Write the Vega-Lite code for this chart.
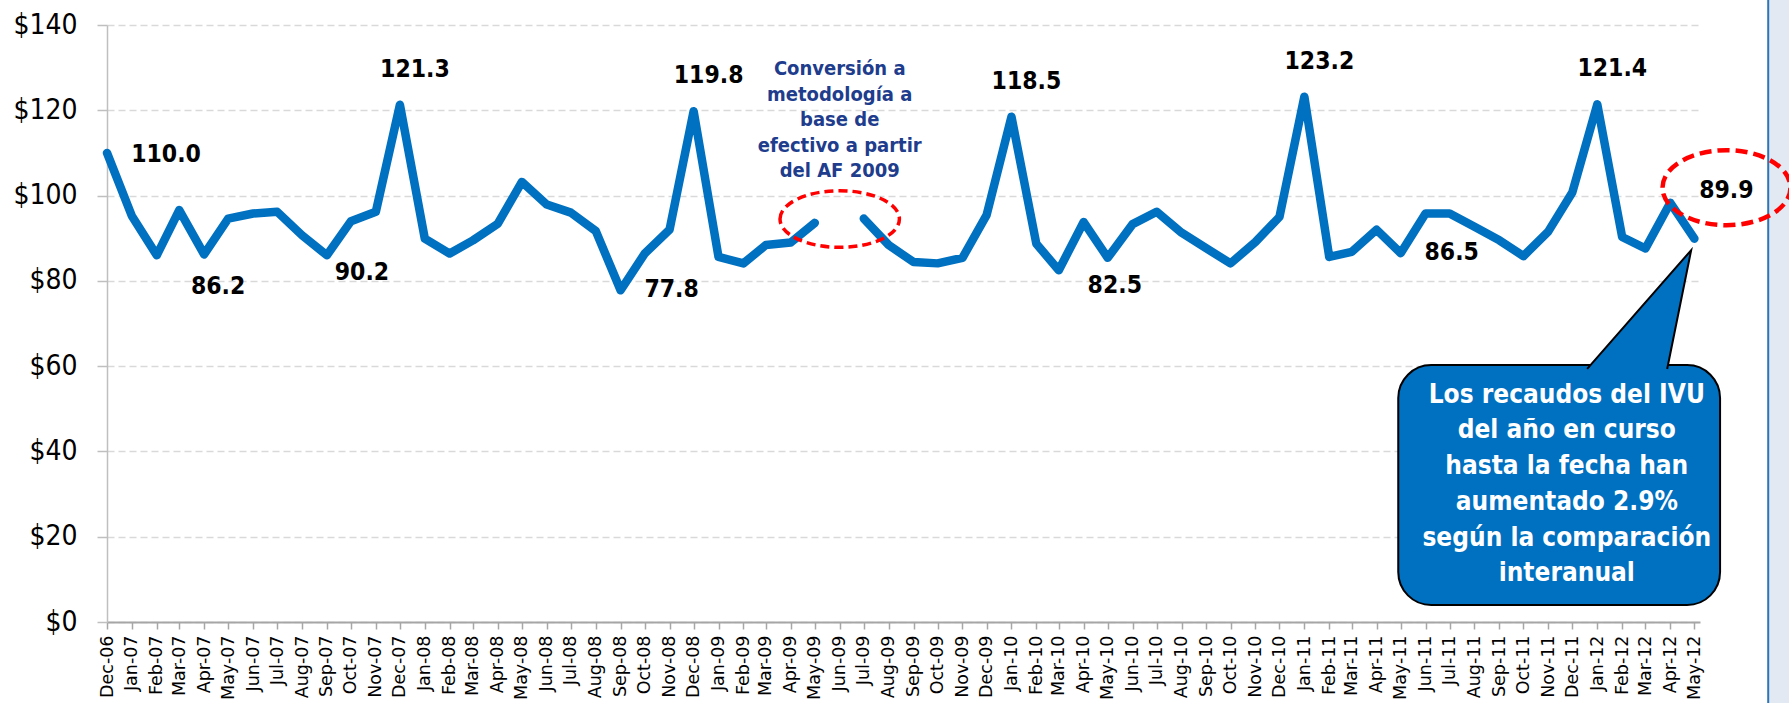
{
  "$schema": "https://vega.github.io/schema/vega-lite/v6.json",
  "autosize": "none",
  "padding": {"left": 107, "top": 25, "right": 89, "bottom": 81},
  "width": 1593,
  "height": 597,
  "background": "#ffffff",
  "config": {"view": {"stroke": null}},
  "datasets": {
    "ivu": [
      {"month": "2006-12-01", "value": 110.0, "label": "110.0"},
      {"month": "2007-01-01", "value": 95.2},
      {"month": "2007-02-01", "value": 86.0},
      {"month": "2007-03-01", "value": 96.6},
      {"month": "2007-04-01", "value": 86.2, "label": "86.2"},
      {"month": "2007-05-01", "value": 94.6},
      {"month": "2007-06-01", "value": 95.8},
      {"month": "2007-07-01", "value": 96.2},
      {"month": "2007-08-01", "value": 90.7},
      {"month": "2007-09-01", "value": 86.0, "label": "90.2"},
      {"month": "2007-10-01", "value": 94.0},
      {"month": "2007-11-01", "value": 96.2},
      {"month": "2007-12-01", "value": 121.3, "label": "121.3"},
      {"month": "2008-01-01", "value": 89.9},
      {"month": "2008-02-01", "value": 86.4},
      {"month": "2008-03-01", "value": 89.5},
      {"month": "2008-04-01", "value": 93.4},
      {"month": "2008-05-01", "value": 103.2},
      {"month": "2008-06-01", "value": 97.9},
      {"month": "2008-07-01", "value": 96.0},
      {"month": "2008-08-01", "value": 91.7},
      {"month": "2008-09-01", "value": 77.8, "label": "77.8"},
      {"month": "2008-10-01", "value": 86.4},
      {"month": "2008-11-01", "value": 92.0},
      {"month": "2008-12-01", "value": 119.8, "label": "119.8"},
      {"month": "2009-01-01", "value": 85.6},
      {"month": "2009-02-01", "value": 84.1},
      {"month": "2009-03-01", "value": 88.4},
      {"month": "2009-04-01", "value": 89.0},
      {"month": "2009-05-01", "value": 93.6},
      {"month": "2009-06-01", "value": null},
      {"month": "2009-07-01", "value": 94.6},
      {"month": "2009-08-01", "value": 88.4},
      {"month": "2009-09-01", "value": 84.4},
      {"month": "2009-10-01", "value": 84.1},
      {"month": "2009-11-01", "value": 85.4},
      {"month": "2009-12-01", "value": 95.4},
      {"month": "2010-01-01", "value": 118.5, "label": "118.5"},
      {"month": "2010-02-01", "value": 88.7},
      {"month": "2010-03-01", "value": 82.5, "label": "82.5"},
      {"month": "2010-04-01", "value": 93.8},
      {"month": "2010-05-01", "value": 85.4},
      {"month": "2010-06-01", "value": 93.3},
      {"month": "2010-07-01", "value": 96.2},
      {"month": "2010-08-01", "value": 91.3},
      {"month": "2010-09-01", "value": 87.6},
      {"month": "2010-10-01", "value": 84.1},
      {"month": "2010-11-01", "value": 89.1},
      {"month": "2010-12-01", "value": 95.0},
      {"month": "2011-01-01", "value": 123.2, "label": "123.2"},
      {"month": "2011-02-01", "value": 85.6},
      {"month": "2011-03-01", "value": 86.8},
      {"month": "2011-04-01", "value": 92.0},
      {"month": "2011-05-01", "value": 86.5, "label": "86.5"},
      {"month": "2011-06-01", "value": 95.8},
      {"month": "2011-07-01", "value": 95.8},
      {"month": "2011-08-01", "value": 92.7},
      {"month": "2011-09-01", "value": 89.5},
      {"month": "2011-10-01", "value": 85.8},
      {"month": "2011-11-01", "value": 91.6},
      {"month": "2011-12-01", "value": 100.8},
      {"month": "2012-01-01", "value": 121.4, "label": "121.4"},
      {"month": "2012-02-01", "value": 90.3},
      {"month": "2012-03-01", "value": 87.6},
      {"month": "2012-04-01", "value": 98.3},
      {"month": "2012-05-01", "value": 89.9, "label": "89.9"}
    ],
    "one": [{}]
  },
  "data": {"name": "ivu"},
  "layer": [
    {
      "data": {"name": "one"},
      "mark": {"type": "rect", "fill": "#E2E9F2", "stroke": null},
      "encoding": {
        "x": {"datum": {"year": 2012, "month": 8, "date": 1, "utc": true}, "type": "temporal"},
        "x2": {"datum": {"year": 2012, "month": 10, "date": 1, "utc": true}},
        "y": {"datum": 150, "type": "quantitative"},
        "y2": {"datum": -25}
      }
    },
    {
      "data": {"name": "one"},
      "mark": {"type": "rule", "stroke": "#2E75B6", "strokeWidth": 2},
      "encoding": {
        "x": {"datum": {"year": 2012, "month": 8, "date": 1, "utc": true}, "type": "temporal"},
        "y": {"datum": 150, "type": "quantitative"},
        "y2": {"datum": -25}
      }
    },
    {
      "mark": {"type": "line", "color": "#0070C0", "strokeWidth": 8.5, "strokeJoin": "round", "strokeCap": "round", "invalid": "break-paths-show-domains"},
      "encoding": {
        "x": {
          "field": "month", "type": "temporal",
          "scale": {"type": "utc", "domain": [{"year": 2006, "month": 12, "date": 1, "utc": true}, {"year": 2012, "month": 5, "date": 8, "utc": true}]},
          "axis": {
            "title": null, "labelExpr": "utcFormat(datum.value, '%b-%y')",
            "tickCount": {"interval": "month", "step": 1},
            "labelAngle": -90, "labelFont": "DejaVu Sans", "labelFontSize": 17.5, "labelColor": "#000000",
            "labelPadding": 6, "labelOverlap": false, "labelFlush": false, "labelBound": false,
            "domainColor": "#A6A6A6", "domainWidth": 2, "tickColor": "#A6A6A6", "tickSize": 7, "tickWidth": 1.5,
            "grid": false
          }
        },
        "y": {
          "field": "value", "type": "quantitative",
          "scale": {"domain": [0, 140], "nice": false, "zero": true},
          "axis": {
            "title": null, "values": [0, 20, 40, 60, 80, 100, 120, 140], "format": "$.0f",
            "labelFont": "DejaVu Sans Condensed", "labelFontSize": 28, "labelColor": "#000000", "labelPadding": 20,
            "domainColor": "#BFBFBF", "domainWidth": 1.5, "tickColor": "#BFBFBF", "tickSize": 10, "tickWidth": 1.5,
            "grid": true, "gridColor": "#D9D9D9", "gridWidth": 1.5, "gridDash": [7, 4]
          }
        }
      }
    },
    {
      "transform": [{"filter": "indexof(['121.3','119.8','118.5','123.2','121.4'], datum.label) >= 0"}],
      "mark": {"type": "text", "font": "DejaVu Sans Condensed", "fontWeight": "bold", "fontSize": 24.5, "color": "#000000", "align": "center", "baseline": "middle", "dx": 15, "dy": -35},
      "encoding": {"x": {"field": "month", "type": "temporal"}, "y": {"field": "value", "type": "quantitative"}, "text": {"field": "label"}}
    },
    {
      "transform": [{"filter": "datum.label == '110.0'"}],
      "mark": {"type": "text", "font": "DejaVu Sans Condensed", "fontWeight": "bold", "fontSize": 24.5, "color": "#000000", "align": "center", "baseline": "middle", "dx": 59, "dy": 2},
      "encoding": {"x": {"field": "month", "type": "temporal"}, "y": {"field": "value", "type": "quantitative"}, "text": {"field": "label"}}
    },
    {
      "transform": [{"filter": "indexof(['77.8','86.5'], datum.label) >= 0"}],
      "mark": {"type": "text", "font": "DejaVu Sans Condensed", "fontWeight": "bold", "fontSize": 24.5, "color": "#000000", "align": "center", "baseline": "middle", "dx": 51, "dy": 0},
      "encoding": {"x": {"field": "month", "type": "temporal"}, "y": {"field": "value", "type": "quantitative"}, "text": {"field": "label"}}
    },
    {
      "transform": [{"filter": "datum.label == '82.5'"}],
      "mark": {"type": "text", "font": "DejaVu Sans Condensed", "fontWeight": "bold", "fontSize": 24.5, "color": "#000000", "align": "center", "baseline": "middle", "dx": 56, "dy": 16},
      "encoding": {"x": {"field": "month", "type": "temporal"}, "y": {"field": "value", "type": "quantitative"}, "text": {"field": "label"}}
    },
    {
      "transform": [{"filter": "datum.label == '90.2'"}],
      "mark": {"type": "text", "font": "DejaVu Sans Condensed", "fontWeight": "bold", "fontSize": 24.5, "color": "#000000", "align": "center", "baseline": "middle", "dx": 35, "dy": 18},
      "encoding": {"x": {"field": "month", "type": "temporal"}, "y": {"field": "value", "type": "quantitative"}, "text": {"field": "label"}}
    },
    {
      "transform": [{"filter": "datum.label == '86.2'"}],
      "mark": {"type": "text", "font": "DejaVu Sans Condensed", "fontWeight": "bold", "fontSize": 24.5, "color": "#000000", "align": "center", "baseline": "middle", "dx": 14, "dy": 33},
      "encoding": {"x": {"field": "month", "type": "temporal"}, "y": {"field": "value", "type": "quantitative"}, "text": {"field": "label"}}
    },
    {
      "data": {"name": "one"},
      "mark": {"type": "point", "filled": false, "opacity": 1, "color": "#FF0000", "strokeWidth": 3.5, "strokeDash": [9, 5],
        "shape": "M-1,0C-1,-0.2618,-0.5523,-0.474,0,-0.474C0.5523,-0.474,1,-0.2618,1,0C1,0.2618,0.5523,0.474,0,0.474C-0.5523,0.474,-1,0.2618,-1,0Z",
        "size": 14256},
      "encoding": {
        "x": {"datum": {"year": 2009, "month": 6, "date": 1, "utc": true}, "type": "temporal"},
        "y": {"datum": 94.5, "type": "quantitative"}
      }
    },
    {
      "data": {"name": "one"},
      "mark": {"type": "text", "font": "DejaVu Sans Condensed", "fontWeight": "bold", "fontSize": 20, "color": "#203C8C", "align": "center", "baseline": "middle", "lineHeight": 25.4},
      "encoding": {
        "x": {"datum": {"year": 2009, "month": 6, "date": 1, "utc": true}, "type": "temporal"},
        "y": {"datum": 129.6, "type": "quantitative"},
        "text": {"value": ["Conversión a", "metodología a", "base de", "efectivo a partir", "del AF 2009"]}
      }
    },
    {
      "data": {"name": "one"},
      "mark": {"type": "rect", "fill": "#0070C0", "stroke": "#000000", "strokeWidth": 2, "cornerRadius": 33},
      "encoding": {
        "x": {"datum": {"year": 2011, "month": 4, "date": 28, "utc": true}, "type": "temporal"},
        "x2": {"datum": {"year": 2012, "month": 6, "date": 2, "utc": true}},
        "y": {"datum": 60.24, "type": "quantitative"},
        "y2": {"datum": 3.98}
      }
    },
    {
      "data": {"name": "one"},
      "mark": {"type": "point", "filled": true, "opacity": 1, "fill": "#0070C0", "stroke": "#000000", "strokeWidth": 2,
        "shape": "M-0.8667,0.99L0,0L-0.2,0.99", "size": 57600},
      "encoding": {
        "x": {"datum": {"year": 2012, "month": 4, "date": 27, "utc": true}, "type": "temporal"},
        "y": {"datum": 87.2, "type": "quantitative"}
      }
    },
    {
      "data": {"name": "one"},
      "mark": {"type": "text", "font": "DejaVu Sans Condensed", "fontWeight": "bold", "fontSize": 26, "color": "#ffffff", "align": "center", "baseline": "middle", "lineHeight": 35.7},
      "encoding": {
        "x": {"datum": {"year": 2011, "month": 11, "date": 24, "utc": true}, "type": "temporal"},
        "y": {"datum": 53.3, "type": "quantitative"},
        "text": {"value": ["Los recaudos del IVU", "del año en curso", "hasta la fecha han", "aumentado 2.9%", "según la comparación", "interanual"]}
      }
    },
    {
      "data": {"name": "one"},
      "mark": {"type": "point", "filled": false, "opacity": 1, "color": "#FF0000", "strokeWidth": 4.5, "strokeDash": [12, 6],
        "shape": "M-1,0C-1,-0.3236,-0.5523,-0.586,0,-0.586C0.5523,-0.586,1,-0.3236,1,0C1,0.3236,0.5523,0.586,0,0.586C-0.5523,0.586,-1,0.3236,-1,0Z",
        "size": 16384},
      "encoding": {
        "x": {"datum": {"year": 2012, "month": 6, "date": 10, "utc": true}, "type": "temporal"},
        "y": {"datum": 101.85, "type": "quantitative"}
      }
    },
    {
      "transform": [{"filter": "datum.label == '89.9'"}],
      "mark": {"type": "text", "font": "DejaVu Sans Condensed", "fontWeight": "bold", "fontSize": 24.5, "color": "#000000", "align": "center", "baseline": "middle", "dx": 32, "dy": -48},
      "encoding": {"x": {"field": "month", "type": "temporal"}, "y": {"field": "value", "type": "quantitative"}, "text": {"field": "label"}}
    }
  ]
}
